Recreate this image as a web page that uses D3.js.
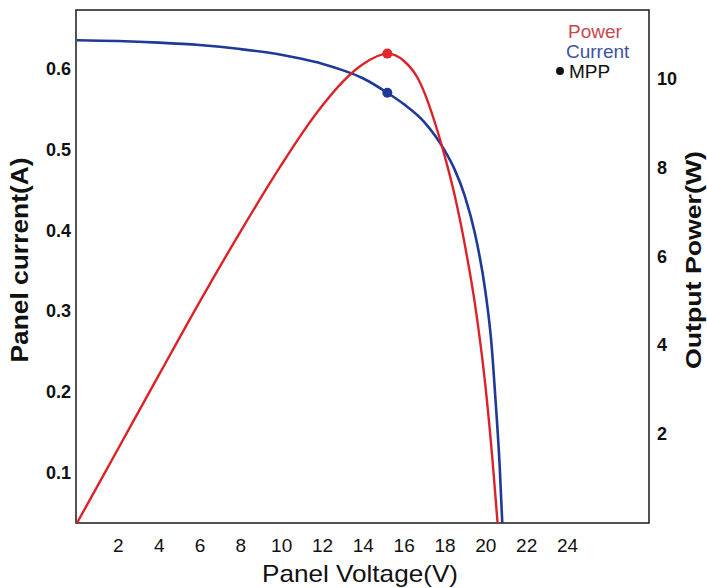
<!DOCTYPE html>
<html>
<head>
<meta charset="utf-8">
<script src="https://cdn.jsdelivr.net/npm/d3@7"></script>
<style>
  body { margin: 0; background: #fff; }
  text { font-family: "Liberation Sans", Arial, sans-serif; }
</style>
</head>
<body>
<div class="chart"></div>
<script>
// values
const powerVoltage = [0, 2, 4, 6, 8, 10, 11, 12, 13, 14, 15.2, 16, 16.7, 17.65, 18, 18.5, 19, 19.5, 20, 20.35, 20.6];
const powerWatts   = [0, 1.66, 3.32, 4.97, 6.55, 8.05, 8.75, 9.38, 9.92, 10.32, 10.56, 10.40, 10.0, 8.83, 8.27, 7.37, 6.25, 4.90, 3.10, 1.42, 0];

const currentVoltage = [0, 2, 4, 6, 8, 10, 11, 12, 13, 14, 15.2, 16, 17, 18, 18.5, 19, 19.5, 20, 20.3, 20.5, 20.7, 20.83];
const currentAmps    = [0.635, 0.634, 0.632, 0.629, 0.624, 0.617, 0.612, 0.606, 0.598, 0.588, 0.570, 0.556, 0.534, 0.499, 0.475, 0.442, 0.395, 0.325, 0.260, 0.190, 0.110, 0.038];

const mpp = { voltage: 15.2, watts: 10.56, amps: 0.570 };

const xTicks = [2, 4, 6, 8, 10, 12, 14, 16, 18, 20, 22, 24];
const currentTicks = [0.1, 0.2, 0.3, 0.4, 0.5, 0.6];
const powerTicks = [2, 4, 6, 8, 10];

const svg = d3.select('.chart')
    .append('svg')
        .attr("width", 707)
        .attr("height", 588)
        .attr("viewBox", "0 0 707 588")

const plotLeft = 76, plotRight = 649, plotTop = 10, plotBottom = 523;

const xScale = d3.scaleLinear().domain([0, 24]).range([77, 567]);
const yCurrent = d3.scaleLinear().domain([0.1, 0.6]).range([473, 68.5]);
const yPower = d3.scaleLinear().domain([0, 10]).range([plotBottom, 78.5]);

// frame
svg.append("rect")
    .attr("x", plotLeft).attr("y", plotTop)
    .attr("width", plotRight - plotLeft).attr("height", plotBottom - plotTop)
    .attr("fill", "none")
    .attr("stroke", "#1a1a1a")
    .attr("stroke-width", 1.5);

// axes (labels only, no tick marks)
const styleAxis = (g, size, weight) => {
    g.select(".domain").remove();
    g.selectAll("line").remove();
    g.selectAll("text")
        .attr("fill", "#111")
        .style("font-size", size + "px")
        .style("font-weight", weight)
        .style("font-family", '"Liberation Sans", Arial, sans-serif');
};

svg.append("g")
    .attr("transform", `translate(0,${plotBottom})`)
    .call(d3.axisBottom(xScale).tickValues(xTicks).tickSize(0).tickPadding(16))
    .call(g => styleAxis(g, 19, "normal"));

svg.append("g")
    .attr("transform", `translate(${plotLeft},0)`)
    .call(d3.axisLeft(yCurrent).tickValues(currentTicks).tickSize(0).tickPadding(5).tickFormat(d3.format(".1f")))
    .call(g => styleAxis(g, 18, "bold"));

svg.append("g")
    .attr("transform", `translate(${plotRight},0)`)
    .call(d3.axisRight(yPower).tickValues(powerTicks).tickSize(0).tickPadding(8))
    .call(g => styleAxis(g, 18, "bold"));

// axis titles
svg.append("text")
    .attr("x", 360).attr("y", 582)
    .attr("text-anchor", "middle")
    .attr("textLength", 196)
    .attr("lengthAdjust", "spacingAndGlyphs")
    .style("font-size", "24px")
    .attr("fill", "#111")
    .text("Panel Voltage(V)");

svg.append("text")
    .attr("transform", "translate(28,260) rotate(-90)")
    .attr("text-anchor", "middle")
    .attr("textLength", 205)
    .attr("lengthAdjust", "spacingAndGlyphs")
    .style("font-size", "23px")
    .style("font-weight", "bold")
    .attr("fill", "#111")
    .text("Panel current(A)");

svg.append("text")
    .attr("transform", "translate(701,260) rotate(-90)")
    .attr("text-anchor", "middle")
    .attr("textLength", 218)
    .attr("lengthAdjust", "spacingAndGlyphs")
    .style("font-size", "22px")
    .style("font-weight", "bold")
    .attr("fill", "#111")
    .text("Output Power(W)");

// curves
const powerLine = d3.line()
    .x((d, i) => xScale(powerVoltage[i]))
    .y(d => yPower(d))
    .curve(d3.curveMonotoneX);

const currentLine = d3.line()
    .x((d, i) => xScale(currentVoltage[i]))
    .y(d => yCurrent(d))
    .curve(d3.curveMonotoneX);

svg.append("path")
    .datum(currentAmps)
    .attr("d", currentLine)
    .attr("fill", "none")
    .attr("stroke", "#1f3a96")
    .attr("stroke-width", 2.6);

svg.append("path")
    .datum(powerWatts)
    .attr("d", powerLine)
    .attr("fill", "none")
    .attr("stroke", "#dc2229")
    .attr("stroke-width", 2.4);

// maximum power point markers
svg.append("circle")
    .attr("cx", xScale(mpp.voltage)).attr("cy", yPower(mpp.watts))
    .attr("r", 5).attr("fill", "#e0282e");
svg.append("circle")
    .attr("cx", xScale(mpp.voltage)).attr("cy", yCurrent(mpp.amps))
    .attr("r", 5).attr("fill", "#1f3a96");

// legend
const legend = svg.append("g").style("font-size", "19px");
legend.append("text").attr("x", 568).attr("y", 38).attr("fill", "#c9474f").text("Power");
legend.append("text").attr("x", 566).attr("y", 58).attr("fill", "#3d52a0").text("Current");
legend.append("circle").attr("cx", 560).attr("cy", 71).attr("r", 4).attr("fill", "#111");
legend.append("text").attr("x", 569).attr("y", 78).attr("fill", "#111").text("MPP");
</script>
</body>
</html>
